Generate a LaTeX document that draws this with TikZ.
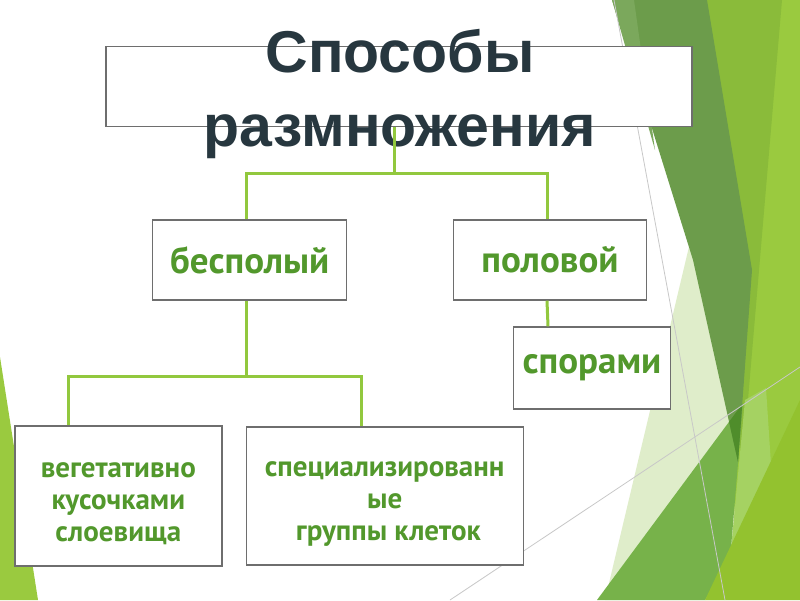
\documentclass[tikz,border=0pt]{standalone}
\usepackage{fontspec}
\setmainfont{PT Sans}
\newfontfamily\ttlfont{Liberation Sans}
\usetikzlibrary{positioning}
\definecolor{txtgreen}{HTML}{52982C}
\definecolor{lnkgreen}{HTML}{92C83E}
\definecolor{boxgray}{HTML}{6E6E6E}
\definecolor{ttldark}{HTML}{27373F}
\definecolor{lngray}{HTML}{C8C8C8}
\definecolor{fcdark}{HTML}{6C9C4B}
\definecolor{fcdarklt}{HTML}{7BA85C}
\definecolor{fcmid}{HTML}{8ABB3A}
\definecolor{fcbright}{HTML}{9ACA3F}
\definecolor{fcpale}{HTML}{DFEDCA}
\definecolor{fcmed}{HTML}{77B24A}
\definecolor{fclow}{HTML}{93C22F}
\definecolor{fclight}{HTML}{A5D262}
\definecolor{fcdeep}{HTML}{4F8D2B}
\newcommand{\toppad}{\rule{0pt}{31pt}}% pushes a text block a little down
\tikzset{
  blk/.style    = {draw=boxgray, line width=1.4pt, fill=white, inner sep=0pt},
  lbl/.style    = {text=txtgreen, align=center,
                   font=\fontsize{37}{42}\selectfont\bfseries},
  lblsm/.style  = {text=txtgreen, align=center,
                   font=\fontsize{29}{32}\selectfont\bfseries},
  ttl/.style    = {text=ttldark, anchor=base, inner sep=0pt,
                   font=\ttlfont\fontsize{59}{74}\selectfont\bfseries},
  link/.style   = {draw=lnkgreen, line width=3pt},
  thinln/.style = {draw=lngray, line width=0.8pt},
}

\begin{document}
\begin{tikzpicture}[x=1pt,y=-1pt]
  \useasboundingbox (0,0) rectangle (800,600);
  \fill[white] (0,0) rectangle (800,600);

  % background facets
  \fill[fcbright] (700,0) -- (800,0) -- (800,600) -- (700,600) -- cycle;
  \fill[fcmid] (707,0) -- (782,0) -- (742,470) -- cycle;
  \fill[fcpale] (712,150) -- (605,600) -- (740,600) -- cycle;
  \fill[fclight] (745,400) -- (766,388) -- (772,480) -- (730,560) -- cycle;
  \fill[fcmed] (597,600) -- (743,403) -- (730,560) -- (705,600) -- cycle;
  \fill[fclow] (705,600) -- (800,400) -- (800,600) -- cycle;
  \fill[fcdark] (612,0) -- (707,0) -- (752,270) -- (738,462) -- (693,260) -- cycle;
  \fill[fcdarklt] (612,0) -- (634,0) -- (655,150) -- cycle;
  \begin{scope}
    \clip (597,600) -- (743,403) -- (800,357) -- (800,600) -- cycle;
    \fill[fcdeep] (612,0) -- (707,0) -- (752,270) -- (738,462) -- (693,260) -- cycle;
  \end{scope}
  \fill[fcbright] (0,357) -- (38,600) -- (0,600) -- cycle;
  \draw[thinln] (614,0) -- (725,600);
  \draw[thinln] (450,600) -- (800,367);

  % boxes
  \node[blk, minimum width=586pt, minimum height=80pt] (title) at (399,86.3) {};
  \node[blk, lbl, minimum width=194pt, minimum height=80pt] (asex) at (249.7,260) {бесполый};
  \node[blk, lbl, minimum width=193pt, minimum height=80pt] (sex) at (550,260) {половой};
  \node[blk, lbl, minimum width=157pt, minimum height=82pt] (spores) at (592,368) {спорами};
  \node[blk, lblsm, minimum width=207pt, minimum height=140pt] (veg) at (118.3,496)
    {\toppad вегетативно\\кусочками\\слоевища};
  \node[blk, lblsm, minimum width=277pt, minimum height=138pt] (spec) at (384.7,496)
    {\toppad специализированн\\ые\\\ группы клеток};

  % title text over the box
  \node[ttl] (ttlA) at (400,72.7) {Способы};
  \node[ttl] (ttlB) at (400,146.7) {размножения};

  % connectors
  \coordinate (hubA) at (394,173);
  \coordinate (hubB) at (246.7,376);
  \draw[link] ([xshift=-5pt]title.south) -- (hubA);
  \draw[link] ([xshift=-3pt]asex.north) |- (hubA) -| ([xshift=-3pt]sex.north);
  \draw[link] ([xshift=-3pt]asex.south) -- (hubB);
  \draw[link] ([xshift=-50pt]veg.north) |- (hubB) -| ([xshift=-23pt]spec.north);
  \draw[link] ([xshift=-3pt]sex.south) -- ([xshift=-44pt]spores.north);
\end{tikzpicture}
\end{document}
